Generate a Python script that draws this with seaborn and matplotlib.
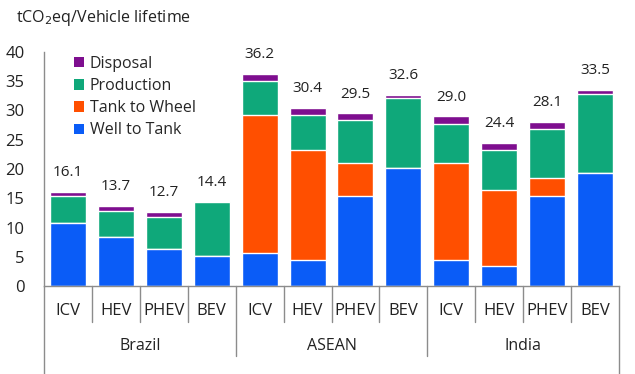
import matplotlib
matplotlib.use("Agg")
import matplotlib.pyplot as plt
import seaborn as sns
import numpy as np
from matplotlib.patches import Patch
from matplotlib.lines import Line2D

# ---- data ----
regions = ["Brazil", "ASEAN", "India"]
vehicles = ["ICV", "HEV", "PHEV", "BEV"]
well_to_tank = [10.7, 8.3, 6.3, 5.2, 5.6, 4.4, 15.4, 20.1, 4.4, 3.4, 15.3, 19.3]
tank_to_wheel = [0.0, 0.0, 0.0, 0.0, 23.7, 18.8, 5.7, 0.0, 16.7, 13.0, 3.2, 0.0]
production = [4.6, 4.6, 5.55, 9.1, 5.8, 6.0, 7.3, 12.1, 6.6, 6.9, 8.4, 13.5]
disposal = [0.8, 0.8, 0.85, 0.1, 1.1, 1.2, 1.1, 0.4, 1.3, 1.1, 1.2, 0.7]
totals = [16.1, 13.7, 12.7, 14.4, 36.2, 30.4, 29.5, 32.6, 29.0, 24.4, 28.1, 33.5]
series_names = ["Disposal", "Production", "Tank to Wheel", "Well to Tank"]
y_ticks = [0, 5, 10, 15, 20, 25, 30, 35, 40]
y_title = "tCO$_2$eq/Vehicle lifetime"

colors = {
    "Disposal": "#7E0E8F",
    "Production": "#0FA87A",
    "Tank to Wheel": "#FF4F00",
    "Well to Tank": "#0A5CF7",
}

FONT = ["Open Sans", "DejaVu Sans"]
NARROW = ["Liberation Sans Narrow", "Open Sans", "DejaVu Sans"]

sns.set_style("white")
plt.rcParams["font.family"] = FONT

W, H = 635, 374
fig = plt.figure(figsize=(W / 100, H / 100), dpi=100)
ax_l, ax_r, ax_b, ax_t = 44, 619, 286, 52
ax = fig.add_axes([ax_l / W, (H - ax_b) / H, (ax_r - ax_l) / W, (ax_b - ax_t) / H])

keys = [f"{r}-{v}" for r in regions for v in vehicles]
wtt = np.array(well_to_tank)
ttw = wtt + np.array(tank_to_wheel)
prod = ttw + np.array(production)
tot = prod + np.array(disposal)

layers = [(tot, "Disposal"), (prod, "Production"), (ttw, "Tank to Wheel"), (wtt, "Well to Tank")]
for vals, name in layers:
    sns.barplot(x=keys, y=list(vals), order=keys, color=colors[name], saturation=1,
                width=0.75, edgecolor="white", linewidth=1.0, ax=ax, errorbar=None)

ax.set_xlim(-0.5, len(keys) - 0.5)
ax.set_ylim(0, 40)
ax.set_yticks(y_ticks)
ax.set_yticklabels([str(t) for t in y_ticks], fontsize=12, color="#222222")
ax.tick_params(axis="y", length=0, pad=14)
ax.set_xticks([])
ax.set_xlabel("")
ax.set_ylabel("")
for s in ["top", "right"]:
    ax.spines[s].set_visible(False)
spine_col = "#8c8c8c"
ax.spines["left"].set_color(spine_col)
ax.spines["bottom"].set_color(spine_col)
ax.spines["left"].set_linewidth(1)
ax.spines["bottom"].set_linewidth(1)

# value labels
for i, t in enumerate(totals):
    ax.annotate(f"{t:.1f}", xy=(i, tot[i]), xytext=(0, 8.5), textcoords="offset points",
                ha="center", va="bottom", fontsize=11, family=NARROW, color="#222222")

# hierarchical x-axis
def fy(py):
    return (H - py) / H

def fx(px):
    return px / W

slot = (ax_r - ax_l) / len(keys)
lines = []
for px in [ax_l, ax_r]:
    lines.append(Line2D([fx(px), fx(px)], [fy(ax_b), fy(H)], color=spine_col, lw=1))
for i in range(1, len(keys)):
    px = ax_l + i * slot
    if i % 4 == 0:
        lines.append(Line2D([fx(px), fx(px)], [fy(ax_b), fy(356)], color=spine_col, lw=1))
    else:
        lines.append(Line2D([fx(px), fx(px)], [fy(ax_b), fy(322)], color=spine_col, lw=1))
for ln in lines:
    fig.add_artist(ln)

for i, k in enumerate(keys):
    px = ax_l + (i + 0.5) * slot
    fig.text(fx(px), fy(311), vehicles[i % 4], ha="center", va="center", fontsize=12, color="#222222")
for g, r in enumerate(regions):
    px = ax_l + (g * 4 + 2) * slot
    fig.text(fx(px), fy(346), r, ha="center", va="center", fontsize=11.5, color="#222222")

fig.text(fx(16), fy(18), y_title, ha="left", va="center", fontsize=11.5, color="#222222")

handles = [Patch(facecolor=colors[n], edgecolor="none") for n in series_names]
fig.legend(handles, series_names, loc="upper left", bbox_to_anchor=(fx(74), fy(56)),
           frameon=False, fontsize=11.5, handlelength=0.6, handleheight=0.6,
           handletextpad=0.4, labelspacing=0.38, borderaxespad=0, borderpad=0)

fig.savefig("out.png", dpi=100)
